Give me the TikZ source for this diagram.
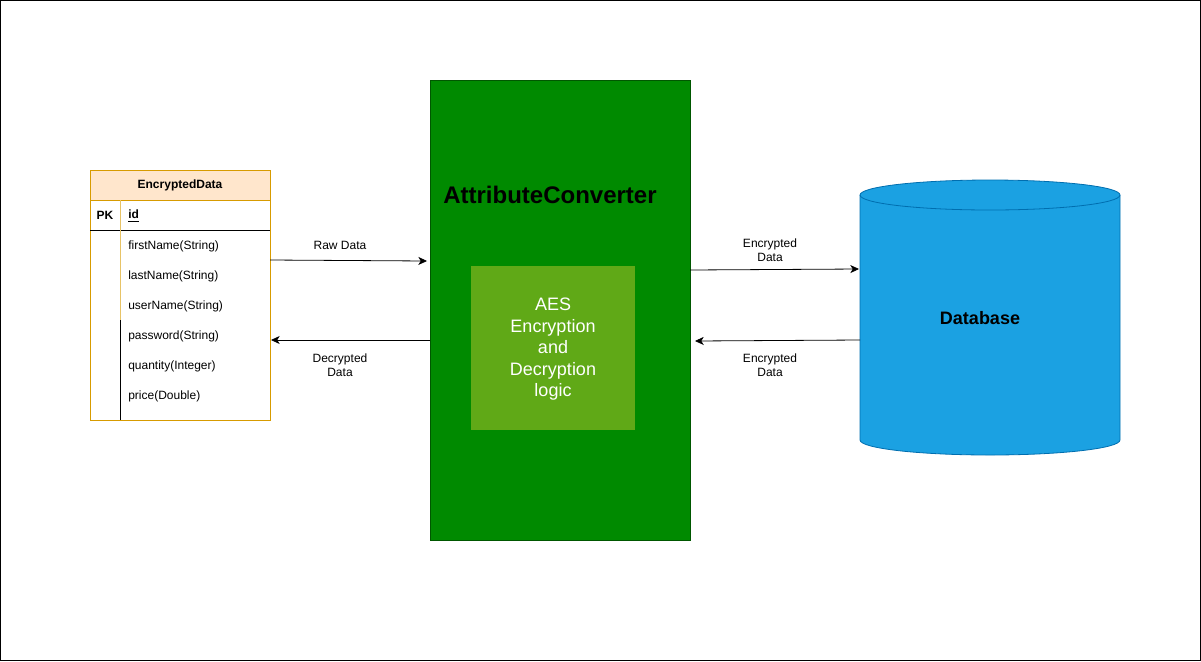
\documentclass[tikz,border=0pt]{standalone}
\usepackage{fontspec}
\setmainfont{Liberation Sans}
\usetikzlibrary{arrows.meta,positioning}

\definecolor{hdrfill}{HTML}{FFE6CC}
\definecolor{hdrline}{HTML}{D79B00}
\definecolor{convfill}{HTML}{008A00}
\definecolor{convline}{HTML}{005700}
\definecolor{logicfill}{HTML}{60A917}
\definecolor{dbfill}{HTML}{1BA1E2}
\definecolor{dbline}{HTML}{006EAF}

\tikzset{
  small/.style={font=\fontsize{9}{10.5}\selectfont},
  field/.style={small, anchor=west, inner sep=0pt},
  flowlbl/.style={small, align=center, inner sep=1pt},
  flow/.style={-{Stealth[length=6.5pt,width=6pt,inset=1.8pt]}, line width=0.6pt},
}

\begin{document}
\begin{tikzpicture}[x=0.75pt, y=-0.75pt]
  \useasboundingbox (0,0) rectangle (1201,661);
  \draw[line width=0.75pt] (0.5,0.5) rectangle (1200.5,660.5); % frame

  % Entity table
  \node[minimum width=135pt, minimum height=187.5pt, inner sep=0pt] (tbl) at (180,295) {};
  \fill[hdrfill] (90.5,170.5) rectangle (269.5,200);
  \draw[hdrline] (90,170) rectangle (270,420);
  \draw[hdrline] (90,200) -- (270,200);
  \draw (90,230) -- (270,230);
  \draw[hdrline!60] (120,200) -- (120,320);
  \draw (120,320) -- (120,420);
  \node[font=\fontsize{9}{10.5}\selectfont\bfseries] (hdr) at (180,185.5) {EncryptedData};
  \node[font=\fontsize{9}{10.5}\selectfont\bfseries] (pk) at (105,215.5) {PK};
  \node[field, font=\fontsize{9}{10.5}\selectfont\bfseries] (idf) at (128,216) {\underline{id}};

  % Columns
  \foreach \f [count=\i] in {firstName(String), lastName(String), userName(String),
      password(String), quantity(Integer), price(Double)} {
    \node[field] (f\i) at (128,216.5+30*\i) {\f};
  }

  % Converter
  \node[draw=convline, fill=convfill, minimum width=195pt, minimum height=345pt,
        inner sep=0pt] (conv) at (560,310) {};
  \node[font=\fontsize{18}{21}\selectfont\bfseries] (title) at (550,195) {AttributeConverter};
  \node[fill=logicfill, minimum width=123pt, minimum height=123pt, inner sep=0pt] (logic) at (553,348) {};
  \node[text=white, align=center, font=\fontsize{13.5}{16.1}\selectfont] (logictxt) at (553,349.5)
    {AES\\Encryption\\and\\Decryption\\logic};

  % Database cylinder
  \filldraw[fill=dbfill, draw=dbline, line width=0.6pt]
    (860,195) -- (860,440) arc[start angle=180, end angle=0, x radius=130, y radius=15]
    -- (1120,195) arc[start angle=0, end angle=-180, x radius=130, y radius=15] -- cycle;
  \draw[dbline, line width=0.6pt] (860,195) arc[start angle=180, end angle=0, x radius=130, y radius=15];
  \node[font=\fontsize{13.5}{16}\selectfont\bfseries] (db) at (980,318) {Database};

  % Connector ends
  \coordinate (rawS) at (270,260);
  \coordinate (rawE) at (427,261);
  \coordinate (decS) at (430,340);
  \coordinate (decE) at (271,340);
  \coordinate (encS) at (690,270);
  \coordinate (encE) at (859,269);
  \coordinate (retS) at (860,340);
  \coordinate (retE) at (695,341);

  \draw[flow] (rawS) -- (rawE);
  \draw[flow] (decS) -- (decE);
  \draw[flow] (encS) -- (encE);
  \draw[flow] (retS) -- (retE);

  % Labels
  \node[flowlbl] (rawlbl) at (340,245) {Raw Data};
  \node[flowlbl] (declbl) at (340,365) {Decrypted\\Data};
  \node[flowlbl] (enclbl) at (770,250) {Encrypted\\Data};
  \node[flowlbl] (retlbl) at (770,365) {Encrypted\\Data};
\end{tikzpicture}
\end{document}
